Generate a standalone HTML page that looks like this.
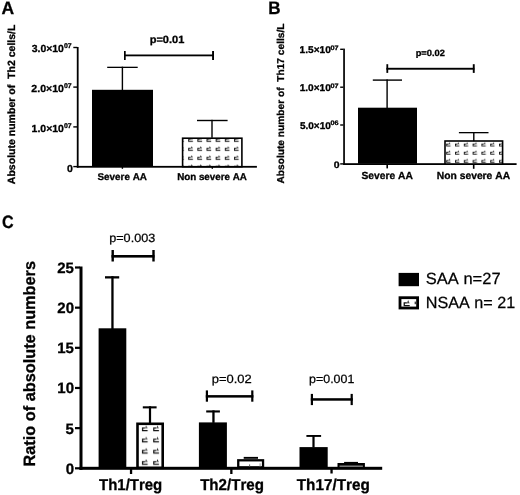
<!DOCTYPE html>
<html><head><meta charset="utf-8">
<style>
html,body{margin:0;padding:0;background:#fff;width:520px;height:495px;overflow:hidden}
svg{display:block;will-change:transform}
text{font-family:"Liberation Sans",sans-serif;fill:#000;font-kerning:none;text-rendering:geometricPrecision;stroke:#000;stroke-width:0.25px}
.b{font-weight:bold;stroke:#000;stroke-width:0.3px}
</style></head><body>
<svg width="520" height="495" viewBox="0 0 520 495">
<defs>
<g id="mk">
<path d="M0,2.2H2.5M0.5,2.2V4.3M0,4.3H4.7" stroke="#111" stroke-width="1" fill="none"/><path d="M2.5,2.2H4.6" stroke="#777" stroke-width="0.8" fill="none"/><path d="M3.5,0L2.8,2H4.2Z" fill="#111"/>
</g>
<pattern id="pa" patternUnits="userSpaceOnUse" x="188.2" y="137.1" width="9.15" height="9">
<rect width="10" height="10" fill="#fff"/><use href="#mk"/>
</pattern>
<pattern id="pb" patternUnits="userSpaceOnUse" x="446.2" y="142.0" width="8.8" height="8.25">
<rect width="10" height="10" fill="#fff"/><use href="#mk" transform="scale(0.92)"/>
</pattern>
<pattern id="pc" patternUnits="userSpaceOnUse" x="141.9" y="425.4" width="11.3" height="11.2">
<rect width="12" height="12" fill="#fff"/><use href="#mk" transform="scale(1.22)"/>
</pattern>
</defs>
<text class="b" font-size="17.9" transform="translate(1.56,13.50) scale(0.978,1)">A</text>
<text class="b" font-size="10.5" transform="translate(15.40,184.16) rotate(-90) scale(1.002,1)">Absolute number of &#160;Th2 cells/L</text>
<rect x="76.8" y="47" width="1.8" height="120.7" fill="#000"/>
<rect x="76.8" y="165.9" width="180.1" height="1.8" fill="#000"/>
<rect x="73.3" y="46.8" width="4" height="1.4" fill="#000"/>
<rect x="73.3" y="86.39999999999999" width="4" height="1.4" fill="#000"/>
<rect x="73.3" y="126.2" width="4" height="1.4" fill="#000"/>
<rect x="73.3" y="165.9" width="4" height="1.4" fill="#000"/>
<text class="b" font-size="10.3" transform="translate(31.66,52.10) scale(1.015,1)">3.0×10</text>
<text class="b" font-size="6.8" transform="translate(63.93,48.30) scale(1.015,1)">07</text>
<text class="b" font-size="10.3" transform="translate(31.33,91.70) scale(1.025,1)">2.0×10</text>
<text class="b" font-size="6.8" transform="translate(63.93,87.90) scale(1.015,1)">07</text>
<text class="b" font-size="10.3" transform="translate(31.54,131.50) scale(1.019,1)">1.0×10</text>
<text class="b" font-size="6.8" transform="translate(63.93,127.70) scale(1.015,1)">07</text>
<text class="b" font-size="10" transform="translate(66.88,171.90) scale(1.051,1)">0</text>
<rect x="92" y="89.8" width="61" height="77" fill="#000"/>
<rect x="121.7" y="66.7" width="1.4" height="23.5" fill="#000"/>
<rect x="107.2" y="66.7" width="30.5" height="1.3" fill="#000"/>
<rect x="121.7" y="167" width="1.4" height="1.8" fill="#000"/>
<rect x="182.6" y="138.2" width="59.3" height="28.5" fill="url(#pa)" stroke="#000" stroke-width="1.6"/>
<rect x="211.3" y="119.8" width="1.4" height="18" fill="#000"/>
<rect x="197" y="119.8" width="30.6" height="1.4" fill="#000"/>
<rect x="211.6" y="167" width="1.4" height="1.8" fill="#000"/>
<rect x="124" y="54.5" width="90" height="1.8" fill="#000"/>
<rect x="124" y="51" width="1.7" height="9" fill="#000"/>
<rect x="212.1" y="51" width="1.9" height="9" fill="#000"/>
<text class="b" font-size="10.5" transform="translate(149.67,43.30) scale(1.050,1)">p=0.01</text>
<text class="b" font-size="9.8" transform="translate(97.52,180.00) scale(1.008,1)">Severe AA</text>
<text class="b" font-size="9.8" transform="translate(177.15,180.00) scale(0.999,1)">Non severe AA</text>
<text class="b" font-size="17.9" transform="translate(268.26,13.50) scale(0.953,1)">B</text>
<text class="b" font-size="10.0" transform="translate(284.00,183.55) rotate(-90) scale(1.018,1)">Absolute number of &#160;Th17 cells/L</text>
<rect x="343.2" y="48.6" width="1.7" height="116.4" fill="#000"/>
<rect x="343.2" y="163.2" width="173.4" height="1.8" fill="#000"/>
<rect x="340.2" y="48.599999999999994" width="3.2" height="1.4" fill="#000"/>
<rect x="340.2" y="86.5" width="3.2" height="1.4" fill="#000"/>
<rect x="340.2" y="124.3" width="3.2" height="1.4" fill="#000"/>
<rect x="340.2" y="163.2" width="3.2" height="1.4" fill="#000"/>
<text class="b" font-size="9.8" transform="translate(299.56,53.30) scale(1.033,1)">1.5×10</text>
<text class="b" font-size="6.5" transform="translate(330.51,49.60) scale(1.122,1)">07</text>
<text class="b" font-size="9.8" transform="translate(299.66,91.20) scale(1.030,1)">1.0×10</text>
<text class="b" font-size="6.5" transform="translate(330.51,87.50) scale(1.122,1)">07</text>
<text class="b" font-size="9.8" transform="translate(299.89,129.00) scale(1.022,1)">5.0×10</text>
<text class="b" font-size="6.5" transform="translate(330.51,125.30) scale(1.113,1)">06</text>
<text class="b" font-size="9.4" transform="translate(333.78,167.90) scale(1.118,1)">0</text>
<rect x="358" y="107.7" width="59" height="56" fill="#000"/>
<rect x="386.4" y="79.4" width="1.4" height="28.6" fill="#000"/>
<rect x="372.8" y="79.4" width="29.2" height="1.4" fill="#000"/>
<rect x="386.4" y="164.5" width="1.6" height="3.9" fill="#000"/>
<rect x="445" y="141" width="57.6" height="23" fill="url(#pb)" stroke="#000" stroke-width="1.6"/>
<rect x="473.1" y="132.2" width="1.4" height="9" fill="#000"/>
<rect x="458.9" y="132" width="29.6" height="1.3" fill="#000"/>
<rect x="472.9" y="164.5" width="1.6" height="4.3" fill="#000"/>
<rect x="386.4" y="67.8" width="88" height="1.9" fill="#000"/>
<rect x="386.4" y="64.2" width="1.8" height="8.7" fill="#000"/>
<rect x="472.8" y="64.2" width="1.9" height="8.7" fill="#000"/>
<text class="b" font-size="9.1" transform="translate(415.69,55.70) scale(1.021,1)">p=0.02</text>
<text class="b" font-size="10.25" transform="translate(361.50,178.60) scale(1.000,1)">Severe AA</text>
<text class="b" font-size="10.25" transform="translate(436.81,178.60) scale(1.005,1)">Non severe AA</text>
<text class="b" font-size="17.9" transform="translate(1.94,227.60) scale(0.897,1)">C</text>
<text class="b" font-size="16.4" transform="translate(35.30,466.49) rotate(-90) scale(0.994,1)">Ratio of absolute numbers</text>
<rect x="79.5" y="266.5" width="3" height="203.4" fill="#000"/>
<rect x="79.5" y="466.8" width="302.7" height="3" fill="#000"/>
<rect x="75" y="467.2" width="5" height="2.2" fill="#000"/>
<text class="b" font-size="15" transform="translate(65.67,473.70) scale(1.000,1)">0</text>
<rect x="75" y="427.03999999999996" width="5" height="2.2" fill="#000"/>
<text class="b" font-size="15" transform="translate(65.48,433.54) scale(1.000,1)">5</text>
<rect x="75" y="386.88" width="5" height="2.2" fill="#000"/>
<text class="b" font-size="15" transform="translate(57.33,393.38) scale(1.000,1)">10</text>
<rect x="75" y="346.72" width="5" height="2.2" fill="#000"/>
<text class="b" font-size="15" transform="translate(57.13,353.22) scale(1.000,1)">15</text>
<rect x="75" y="306.56" width="5" height="2.2" fill="#000"/>
<text class="b" font-size="15" transform="translate(57.33,313.06) scale(1.000,1)">20</text>
<rect x="75" y="266.4" width="5" height="2.2" fill="#000"/>
<text class="b" font-size="15" transform="translate(57.13,272.90) scale(1.000,1)">25</text>
<rect x="98.6" y="328.3" width="27.7" height="139" fill="#000"/>
<rect x="111.3" y="276.2" width="2.3" height="53" fill="#000"/>
<rect x="105" y="276.2" width="14.2" height="2.3" fill="#000"/>
<rect x="137.5" y="423.8" width="25.2" height="44" fill="url(#pc)" stroke="#000" stroke-width="2.6"/>
<rect x="148.9" y="406.3" width="2.2" height="17" fill="#000"/>
<rect x="142.8" y="406.3" width="13.8" height="2.1" fill="#000"/>
<rect x="198.9" y="422.4" width="28" height="45" fill="#000"/>
<rect x="212.3" y="410.4" width="2.3" height="12.5" fill="#000"/>
<rect x="206.2" y="410.4" width="13.7" height="2.1" fill="#000"/>
<rect x="238.25" y="460.3" width="24.8" height="7" fill="#fff" stroke="#000" stroke-width="2.3"/>
<rect x="243.7" y="456.9" width="14.3" height="1.9" fill="#000"/>
<rect x="249.2" y="464.4" width="0.9" height="2.4" fill="#555"/>
<rect x="259.5" y="463.3" width="1.2" height="3" fill="#aaa"/>
<rect x="299.5" y="447.1" width="28.2" height="20.5" fill="#000"/>
<rect x="312.4" y="435" width="2.2" height="12.5" fill="#000"/>
<rect x="306.4" y="435" width="14.7" height="1.9" fill="#000"/>
<rect x="337.5" y="463" width="27.4" height="5" fill="#000"/>
<rect x="339.5" y="465.6" width="23.4" height="1.1" fill="#aaa"/>
<rect x="344.1" y="461.9" width="13.9" height="1.6" fill="#000"/>
<rect x="129.9" y="469" width="2.3" height="5" fill="#000"/>
<rect x="230.2" y="469" width="2.3" height="5" fill="#000"/>
<rect x="330.4" y="469" width="2.3" height="4.5" fill="#000"/>
<rect x="111.5" y="255" width="43" height="2.6" fill="#000"/>
<rect x="111.5" y="250" width="2.4" height="11.5" fill="#000"/>
<rect x="152.3" y="250" width="2.4" height="11.5" fill="#000"/>
<rect x="205.8" y="395.1" width="47.6" height="2.5" fill="#000"/>
<rect x="205.8" y="390.4" width="2.2" height="11.3" fill="#000"/>
<rect x="251.2" y="390.4" width="2.2" height="11.3" fill="#000"/>
<rect x="310.8" y="398.2" width="42" height="2.5" fill="#000"/>
<rect x="310.8" y="393.9" width="2.2" height="11.2" fill="#000"/>
<rect x="350.6" y="393.9" width="2.2" height="11.2" fill="#000"/>
<text font-size="12" transform="translate(109.18,242.00) scale(1.054,1)">p=0.003</text>
<text font-size="12" transform="translate(211.76,382.90) scale(1.080,1)">p=0.02</text>
<text font-size="12" transform="translate(309.10,383.00) scale(1.034,1)">p=0.001</text>
<text class="b" font-size="15.8" transform="translate(99.03,489.70) scale(0.948,1)">Th1/Treg</text>
<text class="b" font-size="15.8" transform="translate(200.13,489.70) scale(0.957,1)">Th2/Treg</text>
<text class="b" font-size="15.8" transform="translate(296.73,489.90) scale(0.967,1)">Th17/Treg</text>
<rect x="398.6" y="272.9" width="20.4" height="13.3" fill="#000"/>
<rect x="400" y="297.7" width="17.6" height="10.3" fill="#fff" stroke="#000" stroke-width="2.8"/>
<use href="#mk" transform="translate(403.6,300.1) scale(1.3)"/>
<rect x="414.6" y="301.6" width="1.4" height="2.6" fill="#444"/>
<text font-size="16.2" transform="translate(425.85,284.30) scale(1.019,1)">SAA n=27</text>
<text font-size="16.2" transform="translate(425.77,308.20) scale(0.998,1)">NSAA n= 21</text>
</svg>
</body></html>
